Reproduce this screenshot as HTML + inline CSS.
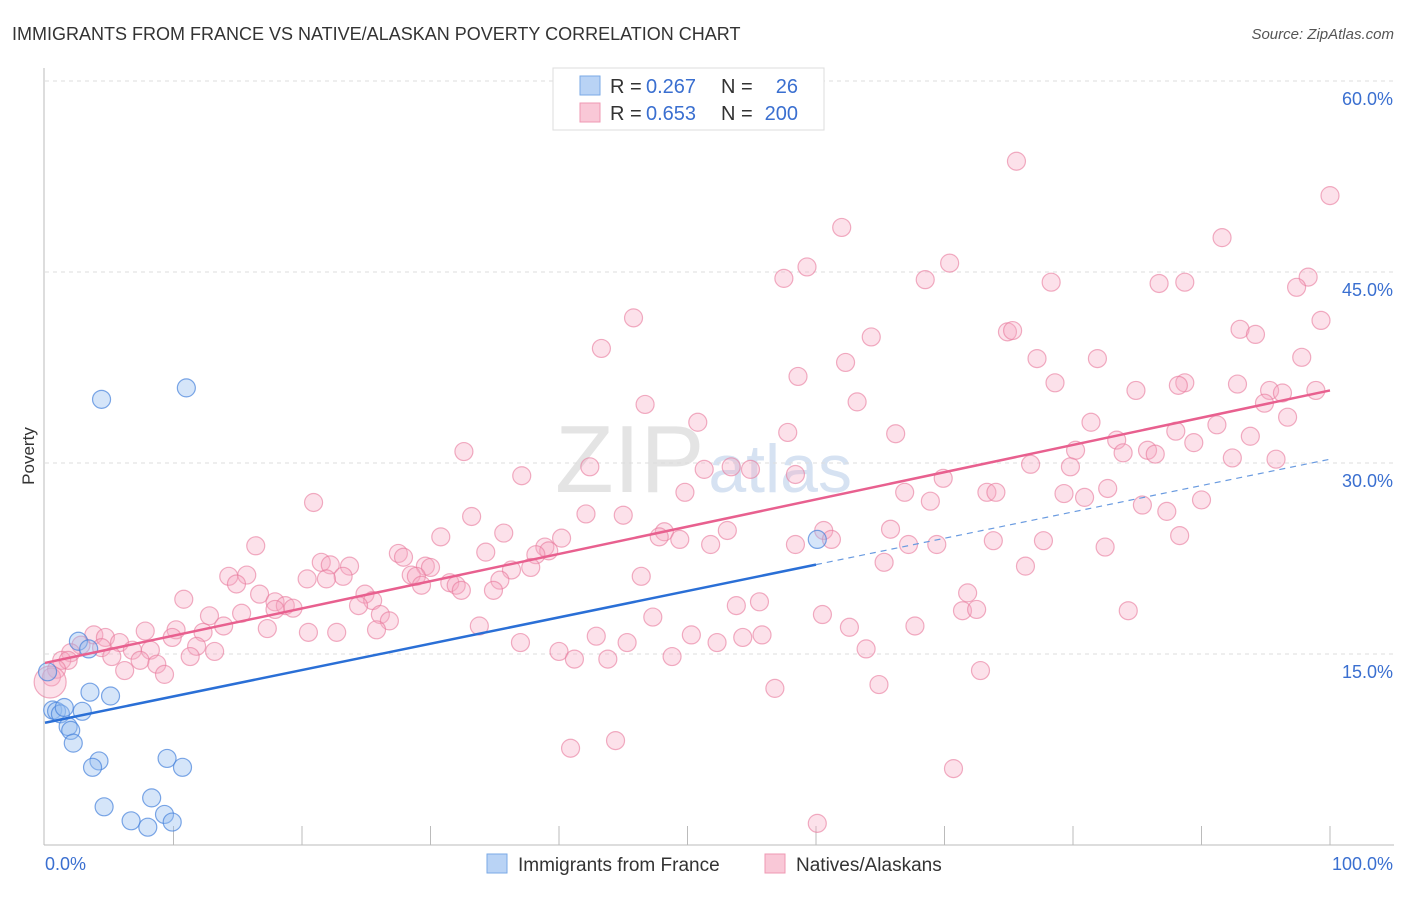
<!DOCTYPE html>
<html><head><meta charset="utf-8"><style>
body{margin:0;background:#fff;font-family:"Liberation Sans",sans-serif;}
svg text{font-family:"Liberation Sans",sans-serif;}
</style></head><body>
<svg id="chart" width="1406" height="892">
<text x="12" y="40" font-size="18" fill="#333">IMMIGRANTS FROM FRANCE VS NATIVE/ALASKAN POVERTY CORRELATION CHART</text>
<text x="1394" y="39" font-size="15" fill="#555" text-anchor="end" font-style="italic">Source: ZipAtlas.com</text>
<text x="555" y="492" font-size="96" fill="#e4e4e4" font-family="Liberation Serif">ZIP<tspan fill="#d6e2f2" font-family="Liberation Sans" font-size="68" dx="4">atlas</tspan></text>
<text transform="translate(34,456) rotate(-90)" font-size="17" fill="#333" text-anchor="middle">Poverty</text>
<g id="grid"></g><g id="pts"></g><g id="lines"></g>
<g>
<rect x="553" y="68" width="271" height="62" fill="#fff" stroke="#ddd"/>
<rect x="580" y="76" width="20" height="19" fill="#b9d3f5" stroke="#7aaae6"/>
<rect x="580" y="103" width="20" height="19" fill="#f9c8d7" stroke="#ef98b3"/>
<text x="610" y="93" font-size="20" fill="#333">R = </text>
<text x="646" y="93" font-size="20" fill="#3a6fd0">0.267</text>
<text x="721" y="93" font-size="20" fill="#333">N =</text>
<text x="798" y="93" font-size="20" fill="#3a6fd0" text-anchor="end">26</text>
<text x="610" y="120" font-size="20" fill="#333">R = </text>
<text x="646" y="120" font-size="20" fill="#3a6fd0">0.653</text>
<text x="721" y="120" font-size="20" fill="#333">N =</text>
<text x="798" y="120" font-size="20" fill="#3a6fd0" text-anchor="end">200</text>
</g>
<g>
<rect x="487" y="854" width="20" height="19" fill="#b9d3f5" stroke="#7aaae6"/>
<text x="518" y="871" font-size="19" fill="#333">Immigrants from France</text>
<rect x="765" y="854" width="20" height="19" fill="#f9c8d7" stroke="#ef98b3"/>
<text x="796" y="871" font-size="19" fill="#333">Natives/Alaskans</text>
</g>
</svg>
<script>
const yTicks=[15,30,45,60];
const yTickLabels=["15.0%","30.0%","45.0%","60.0%"];
const xEnds=["0.0%","100.0%"];
const blueX=[4.4,11.0,2.6,3.4,3.5,5.1,0.6,0.9,1.2,2.9,1.8,2.0,2.2,4.2,3.7,9.5,10.7,4.6,8.3,6.7,8.0,9.3,9.9,60.1,1.5,0.2];
const blueY=[35.0,35.9,16.0,15.4,12.0,11.7,10.6,10.5,10.3,10.5,9.3,9.0,8.0,6.6,6.1,6.8,6.1,3.0,3.7,1.9,1.4,2.4,1.8,24.0,10.8,13.6];
const pinkX=[75.6,100,62.0,91.6,70.4,59.3,57.5,68.5,78.3,86.7,88.7,98.3,97.4,45.8,99.3,93.0,94.2,74.9,75.3,64.3,43.3,77.2,81.9,62.3,97.8,58.6,78.6,84.9,88.7,88.2,92.8,95.3,96.3,98.9,94.9,63.2,46.7,96.7,50.8,81.4,91.2,57.8,66.2,88.0,83.4,93.8,89.4,32.6,80.2,83.9,85.8,86.4,92.4,95.8,76.7,79.8,42.4,53.4,54.9,51.3,58.4,37.1,69.9,49.8,66.9,73.3,74.0,79.3,80.9,82.7,68.9,90.0,20.9,85.4,33.2,42.1,45.0,87.3,65.8,60.6,48.2,35.7,53.1,47.8,49.4,40.2,61.2,73.8,88.3,77.7,30.8,16.4,51.8,58.4,67.2,69.4,82.5,38.9,39.2,34.3,27.5,27.9,38.2,21.5,22.2,23.7,65.3,76.3,29.6,30.0,37.8,36.3,28.5,28.9,14.3,15.7,23.2,46.4,20.4,21.9,14.9,35.4,31.5,29.3,32.0,32.4,34.9,16.7,24.9,10.8,25.5,71.8,17.9,18.7,19.3,17.9,24.4,55.6,53.8,71.4,72.5,84.3,15.3,12.8,26.1,26.8,47.3,60.5,13.9,17.3,33.8,62.6,67.7,7.8,10.2,12.3,20.5,22.7,25.8,3.8,4.7,42.9,50.3,54.3,55.8,5.8,9.9,37.0,45.3,52.3,2.8,4.4,6.8,8.2,13.2,11.8,63.9,2.0,40.0,5.2,11.3,41.2,43.8,48.8,1.3,1.8,7.4,8.7,6.2,9.3,0.9,0.5,72.8,64.9,56.8,0.4,44.4,40.9,70.7,60.1];
const pinkY=[53.7,51.0,48.5,47.7,45.7,45.4,44.5,44.4,44.2,44.1,44.2,44.6,43.8,41.4,41.2,40.5,40.1,40.3,40.4,39.9,39.0,38.2,38.2,37.9,38.3,36.8,36.3,35.7,36.3,36.1,36.2,35.7,35.5,35.7,34.7,34.8,34.6,33.6,33.2,33.2,33.0,32.4,32.3,32.5,31.8,32.1,31.6,30.9,31.0,30.8,31.0,30.7,30.4,30.3,29.9,29.7,29.7,29.7,29.5,29.5,29.1,29.0,28.8,27.7,27.7,27.7,27.7,27.6,27.3,28.0,27.0,27.1,26.9,26.7,25.8,26.0,25.9,26.2,24.8,24.7,24.6,24.5,24.7,24.2,24.0,24.1,24.0,23.9,24.3,23.9,24.2,23.5,23.6,23.6,23.6,23.6,23.4,23.4,23.1,23.0,22.9,22.6,22.8,22.2,22.0,21.9,22.2,21.9,21.9,21.8,21.8,21.6,21.2,21.1,21.1,21.2,21.1,21.1,20.9,20.9,20.5,20.8,20.6,20.4,20.4,20.0,20.0,19.7,19.7,19.3,19.2,19.8,19.1,18.8,18.6,18.5,18.8,19.1,18.8,18.4,18.5,18.4,18.2,18.0,18.1,17.6,17.9,18.1,17.2,17.0,17.2,17.1,17.2,16.8,16.9,16.7,16.7,16.7,16.9,16.5,16.3,16.4,16.5,16.3,16.5,15.9,16.3,15.9,15.9,15.9,15.7,15.5,15.3,15.3,15.2,15.6,15.4,15.1,15.2,14.8,14.8,14.6,14.6,14.8,14.5,14.5,14.5,14.2,13.7,13.4,13.8,13.2,13.7,12.6,12.3,12.8,8.2,7.6,6.0,1.7];
const pinkTrend=[14.3,35.7];
const blueTrend=[9.6,30.3];
const blueSolidEnd=60;
const NS="http://www.w3.org/2000/svg";
const X=v=>45+v*12.85, Y=v=>845-v*12.733;
function mk(tag,attrs,parent){const e=document.createElementNS(NS,tag);for(const k in attrs)e.setAttribute(k,attrs[k]);parent.appendChild(e);return e;}
const grid=document.getElementById('grid'),pts=document.getElementById('pts'),lines=document.getElementById('lines');
yTicks.forEach((t,i)=>{
 const l=mk('line',{x1:45,x2:1394,y1:Y(t),y2:Y(t),stroke:'#ddd','stroke-dasharray':'4,4'},grid);
 
 
 const tx=mk('text',{x:1393,y:Y(t)+24,'font-size':18,fill:'#3a6fd0','text-anchor':'end'},grid);tx.textContent=yTickLabels[i];
 
 
});
mk('line',{x1:44,x2:44,y1:68,y2:845,stroke:'#bbb'},grid);
mk('line',{x1:44,x2:1394,y1:845,y2:845,stroke:'#bbb'},grid);
for(let k=1;k<=10;k++){mk('line',{x1:X(k*10),x2:X(k*10),y1:826,y2:845,stroke:'#bbb'},grid);}
[[0,'start',45],[100,'end',1393]].forEach((d,i)=>{const t=mk('text',{x:d[2],y:870,'font-size':18,fill:'#3a6fd0','text-anchor':d[1]},grid);t.textContent=xEnds[i];
 
 });
pinkX.forEach((x,i)=>{const c=mk('circle',{cx:X(x),cy:Y(pinkY[i]),r:(x<0.5&&pinkY[i]<13)?16:9,fill:'rgba(246,170,195,0.35)',stroke:'rgba(232,120,155,0.6)','stroke-width':1.2},pts);
 
 });
blueX.forEach((x,i)=>{const c=mk('circle',{cx:X(x),cy:Y(blueY[i]),r:9,fill:'rgba(150,190,240,0.4)',stroke:'rgba(70,130,220,0.7)','stroke-width':1.2},pts);
 
 });
const bAt=x=>blueTrend[0]+(blueTrend[1]-blueTrend[0])*x/100;
let l1=mk('line',{x1:X(0),y1:Y(pinkTrend[0]),x2:X(100),y2:Y(pinkTrend[1]),stroke:'#e8608f','stroke-width':2.5},lines);


let l2=mk('line',{x1:X(0),y1:Y(bAt(0)),x2:X(blueSolidEnd),y2:Y(bAt(blueSolidEnd)),stroke:'#2a6fd6','stroke-width':2.5},lines);


let l3=mk('line',{x1:X(blueSolidEnd),y1:Y(bAt(blueSolidEnd)),x2:X(100),y2:Y(bAt(100)),stroke:'#6a9be0','stroke-width':1.2,'stroke-dasharray':'6,5'},lines);


</script>
</body></html>
